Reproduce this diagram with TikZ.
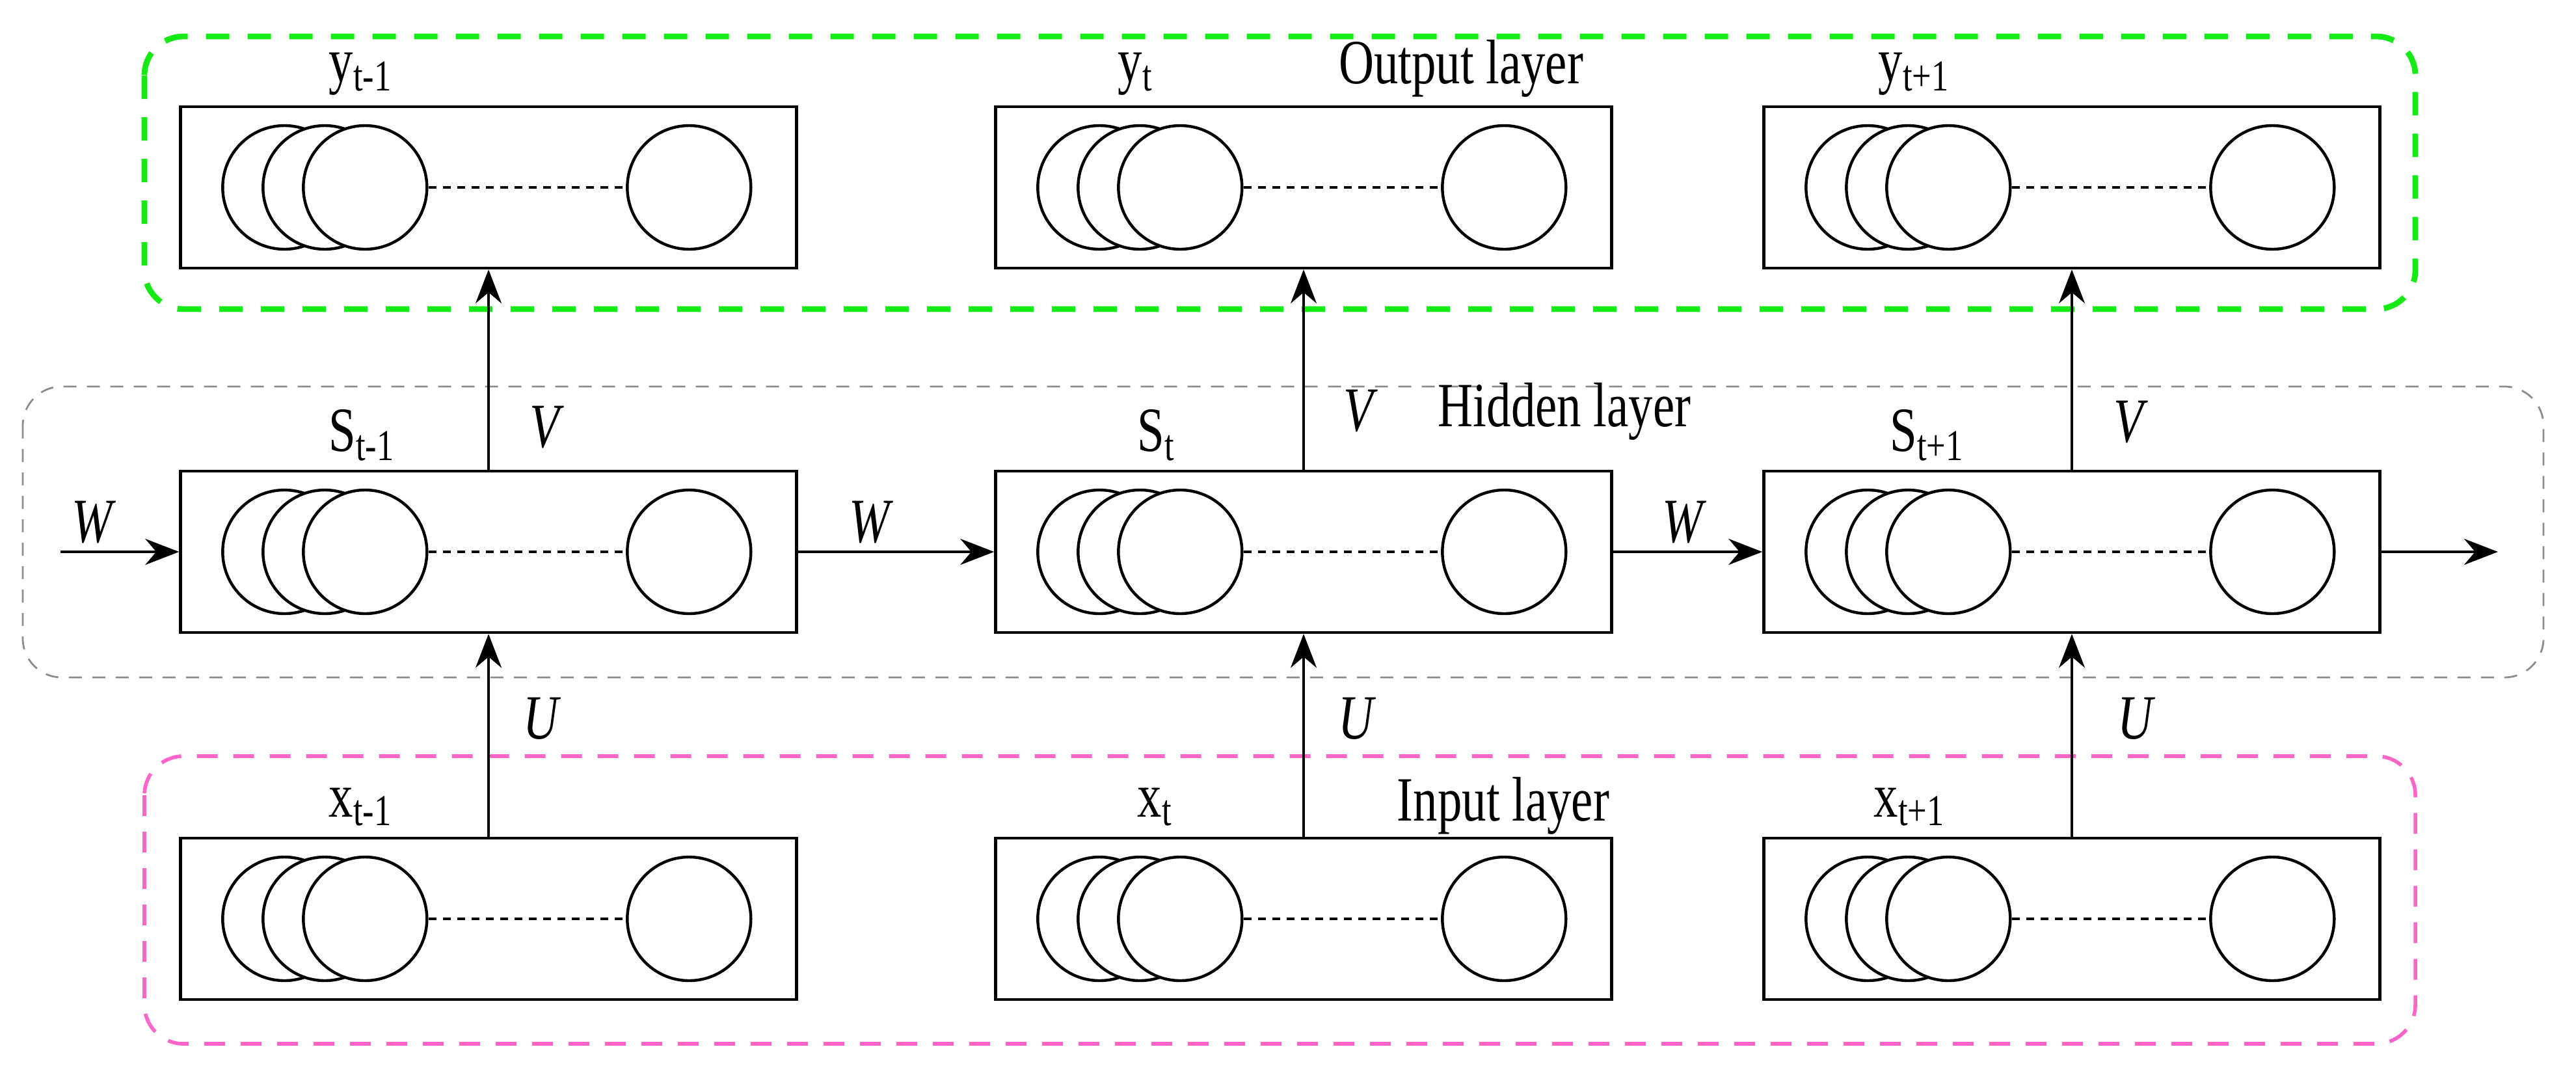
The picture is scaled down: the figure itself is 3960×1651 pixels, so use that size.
\documentclass[tikz,border=0pt]{standalone}
\usepackage{fontspec}
\setmainfont{Liberation Serif}
\usetikzlibrary{arrows.meta}
\definecolor{lgreen}{RGB}{20,235,20}
\definecolor{lpink}{RGB}{255,100,200}
\definecolor{lgrey}{RGB}{140,140,140}
\newcommand\sqz[1]{\scalebox{0.85}[1.1]{#1}}
\begin{document}
\begin{tikzpicture}[x=0.25pt,y=-0.25pt,
  lay/.style={rectangle,draw,line width=1.1pt,minimum width=236.75pt,minimum height=62pt,inner sep=0},
  neu/.style={circle,draw,line width=1.1pt,minimum size=47.5pt,inner sep=0,fill=white},
  lbl/.style={font=\fontsize{22}{24}\selectfont,inner sep=0},
  arr/.style={-{Stealth[length=13pt,width=10pt]},line width=1.1pt},
  grp/.style={rounded corners=15pt,dashed}]
\useasboundingbox (0,0) rectangle (3960,1651);
\draw[grp,lgreen,line width=2.2pt,dash pattern=on 9pt off 7pt] (222,56) rectangle (3713,475);
\draw[grp,lgrey,line width=0.7pt,dash pattern=on 5pt off 4pt] (35,594) rectangle (3910,1041);
\draw[grp,lpink,line width=1.4pt,dash pattern=on 8pt off 6pt] (222,1162) rectangle (3713,1604);
\foreach \n/\cx in {a/751,b/2004,c/3185}{
  \foreach \r/\cy in {o/288,h/848,i/1412}{
    \node[lay] (\r\n) at (\cx,\cy) {};
    \node[neu] (\r\n1) at ([xshift=40.5pt]\r\n.west) {};
    \node[neu] (\r\n2) at ([xshift=56pt]\r\n.west) {};
    \node[neu] (\r\n3) at ([xshift=71.5pt]\r\n.west) {};
    \node[neu] (\r\n4) at ([xshift=196pt]\r\n.west) {};
    \draw[dash pattern=on 3pt off 2.5pt,line width=0.9pt] (\r\n3.east) -- (\r\n4.west);
  }
  \draw[arr] (i\n.north) -- (h\n.south);
  \draw[arr] (h\n.north) -- (o\n.south);
}
\coordinate (win) at (93,848);
\coordinate (wout) at (3840,848);
\draw[arr] (win) -- (ha.west);
\draw[arr] (ha.east) -- (hb.west);
\draw[arr] (hb.east) -- (hc.west);
\draw[arr] (hc.east) -- (wout);
% labels
\node[lbl,anchor=west] (ly1) at (505,114) {\sqz{y\textsubscript{t-1}}};
\node[lbl,anchor=west] (ly2) at (1718,114) {\sqz{y\textsubscript{t}}};
\node[lbl,anchor=west] (ly3) at (2887,114) {\sqz{y\textsubscript{t+1}}};
\node[lbl,anchor=west] (ls1) at (505,669) {\sqz{S\textsubscript{t-1}}};
\node[lbl,anchor=west] (ls2) at (1748,669) {\sqz{S\textsubscript{t}}};
\node[lbl,anchor=west] (ls3) at (2905,669) {\sqz{S\textsubscript{t+1}}};
\node[lbl,anchor=west] (lx1) at (505,1240) {\sqz{x\textsubscript{t-1}}};
\node[lbl,anchor=west] (lx2) at (1748,1240) {\sqz{x\textsubscript{t}}};
\node[lbl,anchor=west] (lx3) at (2880,1240) {\sqz{x\textsubscript{t+1}}};
\node[lbl] (lo) at (2246,105) {\sqz{Output layer}};
\node[lbl] (lh) at (2405,632) {\sqz{Hidden layer}};
\node[lbl] (li) at (2311,1238) {\sqz{Input layer}};
\node[lbl] (v1) at (841,657) {\sqz{\textit{V}}};
\node[lbl] (v2) at (2092,632) {\sqz{\textit{V}}};
\node[lbl] (v3) at (3276,649) {\sqz{\textit{V}}};
\node[lbl] (u1) at (834,1104) {\sqz{\textit{U}}};
\node[lbl] (u2) at (2087,1104) {\sqz{\textit{U}}};
\node[lbl] (u3) at (3284,1104) {\sqz{\textit{U}}};
\node[lbl] (w1) at (144,803) {\sqz{\textit{W}}};
\node[lbl] (w2) at (1339,803) {\sqz{\textit{W}}};
\node[lbl] (w3) at (2589,803) {\sqz{\textit{W}}};
\end{tikzpicture}
\end{document}
